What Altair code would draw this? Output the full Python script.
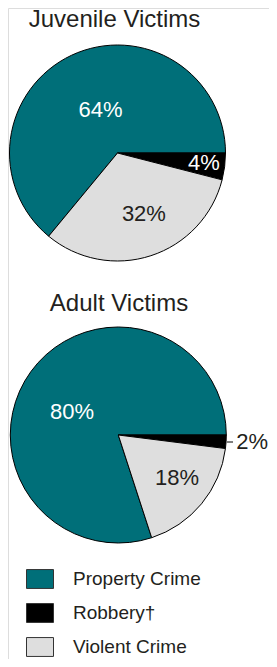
import math
import altair as alt
import pandas as pd

# ---- data ----
groups = ["Juvenile Victims", "Adult Victims"]
categories = ["Property Crime", "Robbery\u2020", "Violent Crime"]
juvenile_values = [64, 4, 32]
adult_values = [80, 2, 18]
# drawing order clockwise from 3 o'clock: Robbery, Violent, Property
draw_order = [2, 0, 1]

colors = ["#006f79", "#000000", "#dedede"]

rows = []
for g, vals in zip(groups, [juvenile_values, adult_values]):
    for c, v, o in zip(categories, vals, draw_order):
        rows.append({"group": g, "category": c, "value": v, "ord": o, "label": f"{v}%"})
df = pd.DataFrame(rows)
titles_df = pd.DataFrame({"group": groups})

FONT = "Arial, Liberation Sans, sans-serif"
TXT = "#231f20"
R = 108

theta_scale = alt.Scale(domain=[0, 100], range=[math.pi / 2, math.pi / 2 + 2 * math.pi])
color_scale = alt.Scale(domain=categories, range=colors)

centers = {"Juvenile Victims": (109.5, 145), "Adult Victims": (110.3, 427)}


def pie(group, show_legend):
    cx, cy = centers[group]
    legend = alt.Legend(
        title=None,
        orient="none",
        legendX=18,
        legendY=557,
        padding=0,
        symbolType="M-1,-0.7L1,-0.7L1,0.7L-1,0.7Z",
        symbolSize=729,
        symbolStrokeColor="#333333",
        symbolStrokeWidth=1,
        labelFont=FONT,
        labelFontSize=19,
        labelColor=TXT,
        labelOffset=19,
        rowPadding=8,
    ) if show_legend else None
    return (
        alt.Chart(df)
        .transform_filter(alt.datum.group == group)
        .mark_arc(outerRadius=R, stroke="black", strokeWidth=1)
        .encode(
            theta=alt.Theta("value:Q", stack=True, scale=theta_scale),
            color=alt.Color("category:N", scale=color_scale, legend=legend),
            order=alt.Order("ord:Q"),
            x=alt.value(cx),
            y=alt.value(cy),
        )
    )


def label(group, category, radius, color, dx=0, dy=0):
    cx, cy = centers[group]
    return (
        alt.Chart(df)
        .transform_filter(alt.datum.group == group)
        .transform_window(cum="sum(value)", sort=[alt.SortField("ord")], frame=[None, 0])
        .transform_calculate(mid="datum.cum - datum.value / 2")
        .transform_filter(alt.datum.category == category)
        .mark_text(radius=radius, font=FONT, fontSize=22, color=color,
                   align="center", baseline="middle", dx=dx, dy=dy)
        .encode(
            theta=alt.Theta("mid:Q", stack=None, scale=theta_scale),
            text="label:N",
            x=alt.value(cx),
            y=alt.value(cy),
        )
    )


def title(group, x, y):
    return (
        alt.Chart(titles_df)
        .transform_filter(alt.datum.group == group)
        .mark_text(font=FONT, fontSize=24, color=TXT, align="center", baseline="alphabetic")
        .encode(text="group:N", x=alt.value(x), y=alt.value(y))
    )


leader = (
    alt.Chart(pd.DataFrame({"a": [0]}))
    .mark_rule(color="black", strokeWidth=1)
    .encode(x=alt.value(219), x2=alt.value(225), y=alt.value(434))
)

chart = (
    alt.layer(
        pie("Juvenile Victims", True),
        pie("Adult Victims", False),
        label("Juvenile Victims", "Property Crime", 46, "white", 2.6, -1.4),
        label("Juvenile Victims", "Robbery\u2020", 87, "white", 0, -1.4),
        label("Juvenile Victims", "Violent Crime", 66, TXT, 6, -2),
        label("Adult Victims", "Property Crime", 51.7, "white", -4.5, 7),
        label("Adult Victims", "Violent Crime", 73, TXT, 2.4, -4),
        label("Adult Victims", "Robbery\u2020", 134, TXT, 0, -1),
        title("Juvenile Victims", 106.5, 19),
        title("Adult Victims", 111, 302.7),
        leader,
    )
    .properties(width=261, height=651, autosize=alt.AutoSizeParams(type="none"), padding=0)
    .configure_view(stroke=None)
    .configure(background="white")
)

chart.save("out.html", embed_options={"renderer": "svg", "actions": False})
